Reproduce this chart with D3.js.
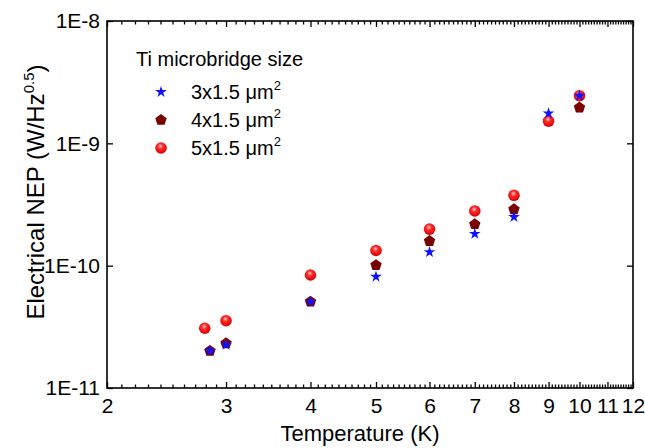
<html>
<head>
	<title>Electrical NEP</title>
	<meta charset="utf-8">
	<script src="https://d3js.org/d3.v7.min.js"></script>
	<style>
		body { margin: 0; background: #fff; }
		text { font-family: "Liberation Sans", Arial, sans-serif; fill: #000; }
	</style>
</head>
<body>
	<script type="text/javascript">
		var width = 645,
			height = 448;

		// data
		var temps3 = [2.84, 3, 4, 5, 6, 7, 8, 9, 10];
		var nep3 = [2.01e-11, 2.25e-11, 5.08e-11, 8.12e-11, 1.29e-10, 1.82e-10, 2.50e-10, 1.76e-9, 2.45e-9];
		var temps4 = [2.84, 3, 4, 5, 6, 7, 8, 9, 10];
		var nep4 = [2.01e-11, 2.32e-11, 5.08e-11, 1.01e-10, 1.59e-10, 2.18e-10, 2.89e-10, 1.52e-9, 1.96e-9];
		var temps5 = [2.79, 3, 4, 5, 6, 7, 8, 9, 10];
		var nep5 = [3.08e-11, 3.55e-11, 8.39e-11, 1.33e-10, 1.99e-10, 2.80e-10, 3.76e-10, 1.52e-9, 2.45e-9];

		var xMajor = [2, 3, 4, 5, 6, 7, 8, 9, 10, 11, 12];
		var yMajor = [1e-8, 1e-9, 1e-10, 1e-11];
		var yLabels = ["1E-8", "1E-9", "1E-10", "1E-11"];
		var legendLabels = ["3x1.5 \u03bcm", "4x1.5 \u03bcm", "5x1.5 \u03bcm"];

		var plotL = 107, plotR = 633, plotT = 21, plotB = 388;

		var svg = d3.select("body").append("svg")
			.attr("width", width)
			.attr("height", height);

		var xScale = d3.scaleLog().domain([2, 12]).range([plotL, plotR]);
		var yScale = d3.scaleLog().domain([1e-11, 1e-8]).range([plotB, plotT]);

		// minor ticks every 0.1 between integers
		var xMinor = [];
		for (var n = 2; n < 12; n++) {
			for (var k = 1; k < 10; k++) xMinor.push(n + k / 10);
		}

		// gradient for red balls
		var defs = svg.append("defs");
		var grad = defs.append("radialGradient").attr("id", "ball")
			.attr("cx", "45%").attr("cy", "35%").attr("r", "65%");
		grad.append("stop").attr("offset", "0%").attr("stop-color", "#ffd0d0");
		grad.append("stop").attr("offset", "35%").attr("stop-color", "#ff2a2a");
		grad.append("stop").attr("offset", "100%").attr("stop-color", "#d80000");

		// axes
		svg.append("g")
			.attr("transform", "translate(0," + plotB + ")")
			.call(d3.axisBottom(xScale).tickValues(xMinor).tickSize(-3.5).tickFormat(""));
		svg.append("g")
			.attr("transform", "translate(0," + plotB + ")")
			.call(d3.axisBottom(xScale).tickValues(xMajor).tickSize(-6).tickPadding(10)
				.tickFormat(d3.format("d")));
		svg.append("g")
			.attr("transform", "translate(0," + plotT + ")")
			.call(d3.axisTop(xScale).tickValues(xMinor).tickSize(-3.5).tickFormat(""));
		svg.append("g")
			.attr("transform", "translate(0," + plotT + ")")
			.call(d3.axisTop(xScale).tickValues(xMajor).tickSize(-6).tickFormat(""));
		svg.append("g")
			.attr("transform", "translate(" + plotL + ",0)")
			.call(d3.axisLeft(yScale).tickValues(yMajor).tickSize(-6).tickPadding(7)
				.tickFormat(function(d, i) { return yLabels[i]; }));
		svg.append("g")
			.attr("transform", "translate(" + plotR + ",0)")
			.call(d3.axisRight(yScale).tickValues(yMajor).tickSize(-6).tickFormat(""));

		svg.selectAll(".domain").remove();
		svg.selectAll(".tick line").attr("stroke", "#000").attr("stroke-width", 1.3);
		svg.selectAll(".tick text").style("font-size", "21px").attr("fill", "#000");

		svg.append("rect")
			.attr("x", plotL).attr("y", plotT)
			.attr("width", plotR - plotL).attr("height", plotB - plotT)
			.attr("fill", "none").attr("stroke", "#000").attr("stroke-width", 1.6);

		// axis titles
		svg.append("text")
			.attr("x", 360).attr("y", 441)
			.attr("text-anchor", "middle")
			.style("font-size", "22px")
			.text("Temperature (K)");

		var yt = svg.append("text")
			.attr("transform", "translate(44," + 192 + ") rotate(-90)")
			.attr("text-anchor", "middle")
			.style("font-size", "24px");
		yt.append("tspan").text("Electrical NEP (W/Hz");
		yt.append("tspan").attr("dy", -10).style("font-size", "15px").text("0.5");
		yt.append("tspan").attr("dy", 10).text(")");

		// markers
		var star = d3.symbol().type(d3.symbolStar).size(42);
		function pentagon(r) {
			var pts = d3.range(5).map(function(i) {
				var a = -Math.PI / 2 + i * 2 * Math.PI / 5;
				return [r * Math.cos(a), r * Math.sin(a)];
			});
			return "M" + pts.join("L") + "Z";
		}

		function pairs(ts, vs) {
			return ts.map(function(t, i) { return [t, vs[i]]; });
		}

		svg.append("g").selectAll("path")
			.data(pairs(temps4, nep4))
			.enter().append("path")
			.attr("d", pentagon(6))
			.attr("fill", "#7a0000")
			.attr("transform", function(d) { return "translate(" + xScale(d[0]) + "," + yScale(d[1]) + ")"; });

		svg.append("g").selectAll("circle")
			.data(pairs(temps5, nep5))
			.enter().append("circle")
			.attr("r", 5.8)
			.attr("fill", "url(#ball)")
			.attr("cx", function(d) { return xScale(d[0]); })
			.attr("cy", function(d) { return yScale(d[1]); });

		svg.append("g").selectAll("path")
			.data(pairs(temps3, nep3))
			.enter().append("path")
			.attr("d", star)
			.attr("fill", "#1010ff")
			.attr("transform", function(d) { return "translate(" + xScale(d[0]) + "," + yScale(d[1]) + ")"; });

		// legend
		svg.append("text")
			.attr("x", 136).attr("y", 66)
			.style("font-size", "20px")
			.text("Ti microbridge size");

		var legendY = [92, 120, 148];
		var lg = svg.append("g");
		lg.append("path").attr("d", star).attr("fill", "#1010ff")
			.attr("transform", "translate(161," + legendY[0] + ")");
		lg.append("path").attr("d", pentagon(6)).attr("fill", "#7a0000")
			.attr("transform", "translate(161," + legendY[1] + ")");
		lg.append("circle").attr("r", 5.8).attr("fill", "url(#ball)")
			.attr("cx", 161).attr("cy", legendY[2]);

		legendLabels.forEach(function(s, i) {
			var t = lg.append("text")
				.attr("x", 191).attr("y", legendY[i] + 7)
				.style("font-size", "20px");
			t.append("tspan").text(s);
			t.append("tspan").attr("dy", -9).style("font-size", "13px").text("2");
		});
	</script>
</body>
</html>
